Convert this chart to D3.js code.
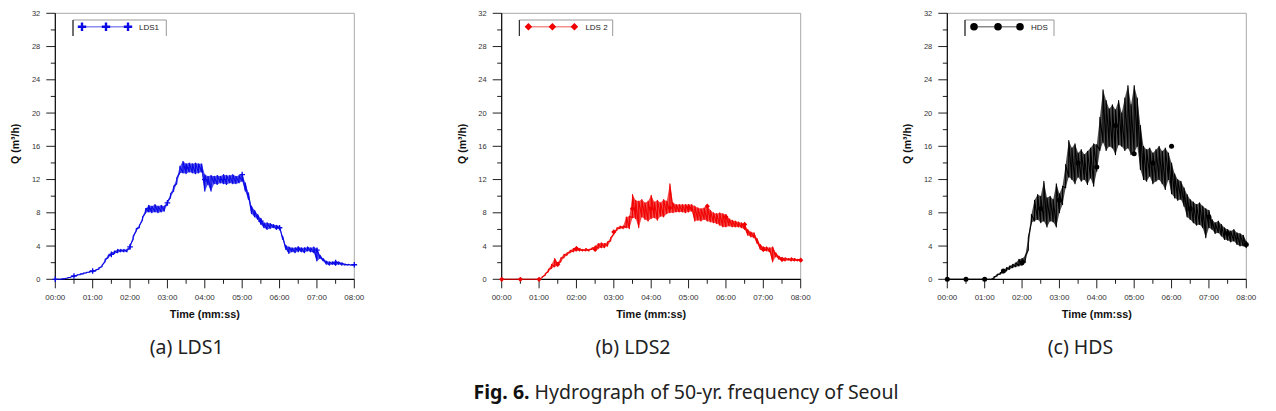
<!DOCTYPE html>
<html><head><meta charset="utf-8">
<script src="https://cdn.jsdelivr.net/npm/d3@7"></script>
<style>
html,body{margin:0;padding:0;background:#fff;}
svg{display:block;}
</style></head>
<body>
<svg id="chart" width="1276" height="411"></svg>
<script>
// ---- data (time step 5 s, 0..480 s) ----
const timeStep = 5;
const xTickLabels = ["00:00","01:00","02:00","03:00","04:00","05:00","06:00","07:00","08:00"];
const yTickValues = [0,4,8,12,16,20,24,28,32];
const seriesNames = ["LDS1","LDS 2","HDS"];
const panelCaptions = ["(a) LDS1","(b) LDS2","(c) HDS"];

const lds1Hi = [0,0,0.05,0.1,0.2,0.3,0.45,0.55,0.65,0.75,0.85,0.95,1.05,1.15,1.4,1.7,2.4,2.9,3.2,3.4,
  3.6,3.6,3.6,3.6,4.1,5.2,6.1,6.5,7.5,8.5,8.9,8.8,9.0,8.8,8.9,8.8,9.4,10.3,11.2,12.2,
  13.6,14.2,13.9,14.0,13.9,14.0,13.9,13.9,12.6,12.4,12.5,12.4,12.5,12.4,12.6,12.5,12.5,12.6,12.4,12.5,
  12.7,11.6,10.4,8.8,8.3,7.8,7.3,6.8,6.8,6.7,6.6,6.5,6.4,5.2,4.1,3.9,3.8,3.8,3.9,3.8,
  3.8,3.9,3.8,3.9,3.7,2.9,2.5,2.2,2.1,2.1,2.2,2.1,2.0,1.85,1.8,1.75,1.75];
const lds1Lo = [0,0,0,0.05,0.15,0.25,0.35,0.45,0.55,0.65,0.75,0.85,0.9,1.0,1.2,1.5,2.1,2.6,2.9,3.1,
  3.2,3.3,3.3,3.3,3.7,4.8,5.8,6.2,7.1,8.0,8.1,8.0,8.1,8.0,8.1,8.2,9.0,9.8,10.6,11.5,
  12.8,12.8,12.7,12.9,12.8,12.7,12.8,12.9,10.6,11.4,10.6,11.5,11.4,11.6,11.5,11.4,11.6,11.5,11.5,11.6,
  11.8,10.6,9.6,7.9,7.5,7.2,6.6,6.2,6.0,6.1,6.2,6.0,6.1,4.8,3.6,3.1,3.3,3.2,3.4,3.3,
  3.2,3.4,3.3,3.2,2.2,2.5,2.2,1.8,1.7,1.8,1.7,1.8,1.7,1.7,1.7,1.7,1.7];

const lds2Hi = [0,0,0,0,0,0,0,0,0,0,0,0,0,0.3,0.7,1.2,1.8,2.5,2.0,2.6,
  3.0,3.2,3.5,3.7,3.9,3.7,3.6,3.7,3.6,3.8,4.0,4.3,4.4,4.3,4.5,5.0,5.7,6.2,6.4,6.4,
  7.5,7.6,10.2,9.5,9.4,9.6,9.2,9.4,10.1,9.3,9.5,9.2,9.6,9.4,11.5,9.2,9.0,9.0,9.0,9.0,
  9.0,9.0,8.8,8.6,8.5,8.6,8.9,8.3,8.0,7.9,8.0,7.9,7.8,7.3,7.1,7.0,6.9,6.8,6.6,6.0,
  5.7,5.6,4.9,4.2,3.9,3.9,3.8,3.9,3.2,2.8,2.6,2.6,2.5,2.6,2.5,2.4,2.4];
const lds2Lo = [0,0,0,0,0,0,0,0,0,0,0,0,0,0.2,0.5,0.9,1.3,1.5,1.6,2.1,
  2.6,2.9,3.2,3.3,3.4,3.4,3.4,3.4,3.4,3.6,3.7,3.7,3.8,3.8,4.0,4.6,5.4,5.9,6.1,6.1,
  6.2,6.1,7.4,7.3,6.2,7.5,7.2,7.0,7.3,7.4,7.1,7.6,7.5,7.9,8.0,8.0,8.1,8.1,8.1,8.0,
  8.1,8.2,7.0,7.1,7.0,7.2,7.0,6.9,6.8,6.7,6.5,6.3,6.3,6.4,6.3,6.3,6.3,6.2,6.0,5.3,
  5.1,5.0,4.3,3.6,3.4,3.4,3.3,2.1,2.7,2.4,2.2,2.2,2.3,2.2,2.2,2.2,2.2];

const hdsHi = [0,0,0,0,0,0,0,0,0,0,0,0,0,0,0,0.3,0.6,0.8,1.1,1.4,
  1.6,1.8,2.0,2.4,2.5,2.8,5.0,7.8,9.5,10.2,10.0,11.8,9.8,10.0,9.6,11.5,10.3,11.2,13.8,16.7,
  15.8,16.3,15.2,15.6,15.0,15.4,15.8,16.3,16.2,19.5,22.8,21.5,20.5,21.0,20.4,21.5,20.0,21.8,23.3,21.0,
  23.3,21.8,18.5,16.0,15.6,15.8,15.2,15.6,16.0,15.4,15.8,15.2,14.0,12.7,12.0,11.8,11.0,10.2,9.6,9.3,
  9.0,9.2,8.8,8.5,8.3,7.2,6.8,7.0,6.6,6.2,6.0,5.8,6.0,5.6,5.5,5.3,4.6];
const hdsLo = [0,0,0,0,0,0,0,0,0,0,0,0,0,0,0,0.1,0.4,0.6,0.8,1.0,
  1.2,1.4,1.5,1.6,1.7,2.0,3.5,6.8,7.0,7.2,6.8,7.0,6.3,7.0,6.9,6.3,8.0,9.0,11.0,12.3,
  12.0,11.5,12.3,11.8,12.0,11.4,12.2,11.2,13.0,15.5,16.5,15.5,16.0,15.8,15.0,16.2,16.0,15.5,15.8,15.0,
  15.2,16.0,13.2,12.0,11.8,12.4,11.5,11.8,12.0,11.5,10.8,12.0,10.3,9.8,9.5,9.6,8.8,7.5,7.2,6.8,
  6.5,6.6,6.2,5.0,6.2,6.0,5.5,5.6,5.2,4.8,4.7,4.5,4.6,4.2,4.0,4.0,3.8];

// markers every 30 s
const markerStep = 30;
const lds1Markers = [0,0.4,1.0,3.0,3.9,8.5,9.2,13.4,12.0,12.0,12.6,7.0,6.2,3.6,3.5,2.0,1.75];
const lds2Markers = [0,0,0,1.8,3.7,3.6,5.7,8.5,8.5,8.6,8.6,8.8,7.5,6.6,3.6,2.4,2.3];
const hdsMarkers  = [0,0,0,1.0,2.0,8.5,9.5,14,13.5,18.5,15.1,14,16.0,8.5,7.5,5.5,4.2];

// ---- drawing ----
const svg = d3.select("#chart");
const panels = [
  {x0:55.3, name:seriesNames[0], hi:lds1Hi, lo:lds1Lo, mk:lds1Markers, color:"#0a0ae6", legLine:"#8c8cf0", shape:"plus", cap:panelCaptions[0], capX:186.7},
  {x0:501.7, name:seriesNames[1], hi:lds2Hi, lo:lds2Lo, mk:lds2Markers, color:"#f00000", legLine:"#f59090", shape:"diamond", cap:panelCaptions[1], capX:633},
  {x0:947.3, name:seriesNames[2], hi:hdsHi, lo:hdsLo, mk:hdsMarkers, color:"#000000", legLine:"#8a8a8a", shape:"circle", cap:panelCaptions[2], capX:1080.5}
];
const plotW = 299, plotTop = 13.3, plotBottom = 279.3;
const tickFont = "'Liberation Sans', Arial, sans-serif";

function markerPath(shape, s){
  if(shape==="plus") return `M${-s},0H${s}M0,${-s}V${s}`;
  if(shape==="diamond") return `M0,${-s}L${s},0L0,${s}L${-s},0Z`;
  return null;
}

panels.forEach(p=>{
  const x = d3.scaleLinear().domain([0,480]).range([p.x0, p.x0+plotW]);
  const y = d3.scaleLinear().domain([0,32]).range([plotBottom, plotTop]);
  const g = svg.append("g");

  // frame top/right (gray)
  g.append("path").attr("d", `M${x(0)},${y(32)}H${x(480)}V${y(0)}`)
    .attr("fill","none").attr("stroke","#a8a8a8").attr("stroke-width",1);

  // y axis
  const yMinor = d3.range(0,33,2);
  g.selectAll(".ymin").data(yMinor).join("line")
    .attr("x1", x(0)).attr("x2", d=> d%4===0 ? x(0)-9 : x(0)-4.5)
    .attr("y1", d=>y(d)).attr("y2", d=>y(d))
    .attr("stroke","#222").attr("stroke-width",1);
  g.selectAll(".ylab").data(yTickValues).join("text")
    .attr("x", x(0)-15).attr("y", d=>y(d)).attr("dy","0.35em")
    .attr("text-anchor","end").attr("font-family",tickFont).attr("font-size",7.5)
    .attr("fill","#333").text(d=>d);
  g.append("line").attr("x1",x(0)).attr("x2",x(0)).attr("y1",y(0)).attr("y2",y(32))
    .attr("stroke","#000").attr("stroke-width",1.2);

  // x axis
  const xMinor = d3.range(0,481,30);
  g.selectAll(".xmin").data(xMinor).join("line")
    .attr("x1", d=>x(d)).attr("x2", d=>x(d))
    .attr("y1", y(0)).attr("y2", d=> d%60===0 ? y(0)+9 : y(0)+4.5)
    .attr("stroke","#222").attr("stroke-width",1);
  g.selectAll(".xlab").data(xTickLabels).join("text")
    .attr("x", (d,i)=>x(i*60)).attr("y", 296.7).attr("dy","0.35em")
    .attr("text-anchor","middle").attr("font-family",tickFont).attr("font-size",8)
    .attr("fill","#333").text(d=>d);
  g.append("line").attr("x1",x(0)).attr("x2",x(480)).attr("y1",y(0)).attr("y2",y(0))
    .attr("stroke","#000").attr("stroke-width",1.2);

  // axis titles
  g.append("text").attr("x", x(240)).attr("y", 314).attr("dy","0.35em")
    .attr("text-anchor","middle").attr("font-family",tickFont).attr("font-weight","bold")
    .attr("font-size",10.8).attr("fill","#111").text("Time (mm:ss)");
  g.append("text").attr("transform",`translate(${x(0)-39.5},${y(16.3)}) rotate(-90)`)
    .attr("dy","0.35em").attr("text-anchor","middle").attr("font-family",tickFont)
    .attr("font-weight","bold").attr("font-size",10.5).attr("fill","#111").text("Q (m³/h)");

  // series: fluctuation band (low..high envelope) + saw-tooth trace
  const band = p.hi.map((h,i)=>({t:i*timeStep, lo:p.lo[i], hi:h}));
  const area = d3.area().x(d=>x(d.t)).y0(d=>y(d.lo)).y1(d=>y(d.hi));
  g.append("path").datum(band).attr("d", area).attr("fill", p.color).attr("fill-opacity",0.7);
  const pts = [];
  band.forEach(d=>{ pts.push([d.t,d.lo]); pts.push([d.t,d.hi]); });
  const line = d3.line().x(d=>x(d[0])).y(d=>y(d[1]));
  g.append("path").datum(pts).attr("d", line).attr("fill","none")
    .attr("stroke", p.color).attr("stroke-width",1.1).attr("stroke-linejoin","round");

  // plot markers
  p.mk.forEach((v,i)=>{
    const t = i*markerStep;
    if(p.shape==="circle"){
      g.append("circle").attr("cx",x(t)).attr("cy",y(v)).attr("r",2.5).attr("fill",p.color);
    } else if(p.shape==="plus"){
      g.append("path").attr("transform",`translate(${x(t)},${y(v)})`).attr("d",markerPath("plus",2.8))
        .attr("stroke",p.color).attr("stroke-width",1.3).attr("fill","none");
    } else {
      g.append("path").attr("transform",`translate(${x(t)},${y(v)})`).attr("d",markerPath("diamond",2.6))
        .attr("fill",p.color);
    }
  });

  // legend
  const lx = p.x0 + 17.7, lr = p.shape==="circle" ? p.x0+106.7 : p.x0+111;
  g.append("path").attr("d",`M${lx},36V20H${lr}V36`).attr("fill","none").attr("stroke","#999").attr("stroke-width",1);
  g.append("line").attr("x1",lx).attr("x2",lx).attr("y1",20).attr("y2",36).attr("stroke","#333").attr("stroke-width",1.2);
  const lm = [p.x0+26.7, p.x0+50.7, p.x0+72.7];
  g.append("line").attr("x1",lm[0]).attr("x2",lm[2]).attr("y1",26.7).attr("y2",26.7)
    .attr("stroke",p.legLine).attr("stroke-width",1.6);
  lm.forEach(mx=>{
    if(p.shape==="circle"){
      g.append("circle").attr("cx",mx).attr("cy",26.7).attr("r",3.8).attr("fill",p.color);
    } else if(p.shape==="plus"){
      g.append("path").attr("transform",`translate(${mx},26.7)`).attr("d",markerPath("plus",4.2))
        .attr("stroke",p.color).attr("stroke-width",2.4).attr("fill","none");
    } else {
      g.append("path").attr("transform",`translate(${mx},26.7)`).attr("d",markerPath("diamond",3.8))
        .attr("fill",p.color);
    }
  });
  g.append("text").attr("x", p.x0+83.7).attr("y",26.7).attr("dy","0.35em")
    .attr("font-family",tickFont).attr("font-size",8).attr("fill","#222").text(p.name);

  // caption
  svg.append("text").attr("x", p.capX).attr("y", 354).attr("text-anchor","middle")
    .attr("font-family","'Noto Sans', sans-serif").attr("font-size",19.5).attr("fill","#222")
    .text(p.cap);
});

// figure caption
const fc = svg.append("text").attr("x", 686).attr("y", 399).attr("text-anchor","middle")
  .attr("font-family","'Noto Sans', sans-serif").attr("font-size",19.5).attr("fill","#222");
fc.append("tspan").attr("font-weight","bold").attr("fill","#111").text("Fig. 6.");
fc.append("tspan").text(" Hydrograph of 50-yr. frequency of Seoul");
</script>
</body></html>
